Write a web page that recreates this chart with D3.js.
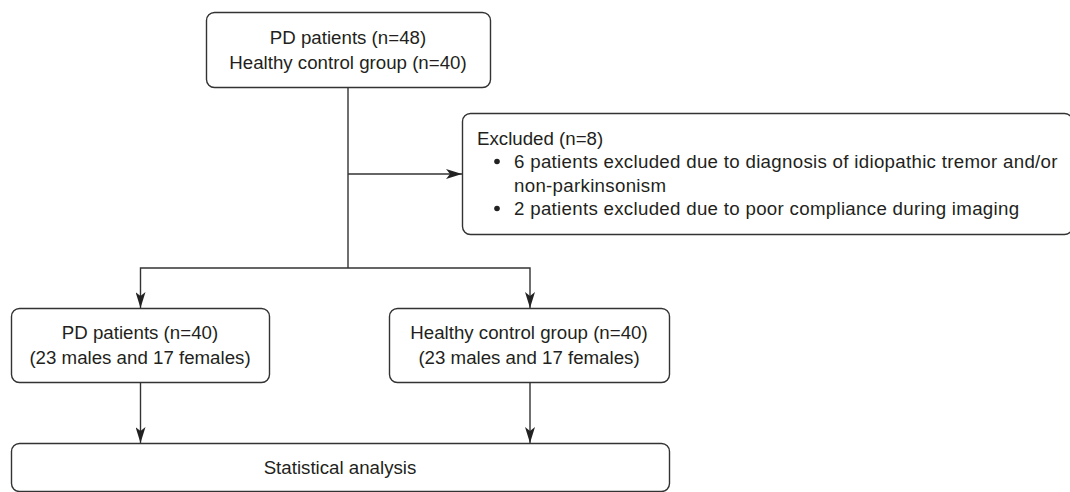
<!DOCTYPE html>
<html>
<head>
<meta charset="utf-8">
<script src="https://cdn.jsdelivr.net/npm/d3@7"></script>
<style>
  body { margin: 0; background: #fff; }
  text { font-family: 'Liberation Sans', Arial, sans-serif; font-size: 18.7px; fill: #231f20; }
</style>
</head>
<body>
<div class="chart"></div>
<script>
  const width = 1070;
  const height = 492;

  // box texts
  const topLines = ['PD patients (n=48)', 'Healthy control group (n=40)'];
  const excludedTitle = 'Excluded (n=8)';
  const excludedItems = [
    ['6 patients excluded due to diagnosis of idiopathic tremor and/or', 'non-parkinsonism'],
    ['2 patients excluded due to poor compliance during imaging'],
  ];
  const groupLines = [
    ['PD patients (n=40)', '(23 males and 17 females)'],
    ['Healthy control group (n=40)', '(23 males and 17 females)'],
  ];
  const finalLines = ['Statistical analysis'];

  // layout
  const boxes = {
    top: { x: 206, y: 12, w: 284, h: 75 },
    excl: { x: 462, y: 113, w: 610, h: 121 },
    left: { x: 11, y: 308, w: 258, h: 74 },
    right: { x: 389, y: 308, w: 280, h: 74 },
    final: { x: 11, y: 443, w: 658, h: 48 },
  };
  const lineH = 25;
  const stroke = '#333';

  const svg = d3.select('.chart').append('svg')
    .attr('width', width)
    .attr('height', height);

  svg.append('defs').append('marker')
    .attr('id', 'arrow')
    .attr('viewBox', '0 0 16 10')
    .attr('refX', 16)
    .attr('refY', 5)
    .attr('markerWidth', 16)
    .attr('markerHeight', 10)
    .attr('markerUnits', 'userSpaceOnUse')
    .attr('orient', 'auto')
    .append('path')
    .attr('d', 'M0,0 L16,5 L0,10 L4,5 Z')
    .attr('fill', '#222');

  // boxes
  svg.append('g').selectAll('rect')
    .data(Object.values(boxes))
    .join('rect')
    .attr('x', d => d.x + 0.5)
    .attr('y', d => d.y + 0.5)
    .attr('width', d => d.w)
    .attr('height', d => d.h)
    .attr('rx', 8)
    .attr('fill', 'none')
    .attr('stroke', stroke)
    .attr('stroke-width', 1.4);

  const cx = b => b.x + b.w / 2;
  const midX = cx(boxes.top);
  const branchY = 268;
  const leftX = cx(boxes.left) + 0.5;
  const rightX = 530;

  const line = d3.line();
  const paths = [
    { pts: [[midX, boxes.top.y + boxes.top.h], [midX, branchY]], arrow: false },
    { pts: [[midX, 174], [boxes.excl.x, 174]], arrow: true },
    { pts: [[midX, branchY], [leftX, branchY], [leftX, boxes.left.y]], arrow: true },
    { pts: [[midX, branchY], [rightX, branchY], [rightX, boxes.right.y]], arrow: true },
    { pts: [[leftX, boxes.left.y + boxes.left.h], [leftX, boxes.final.y]], arrow: true },
    { pts: [[rightX, boxes.right.y + boxes.right.h], [rightX, boxes.final.y]], arrow: true },
  ];
  svg.append('g').selectAll('path')
    .data(paths)
    .join('path')
    .attr('d', d => line(d.pts))
    .attr('fill', 'none')
    .attr('stroke', stroke)
    .attr('stroke-width', 1.4)
    .attr('marker-end', d => d.arrow ? 'url(#arrow)' : null);

  // centered multi-line labels
  function centered(lines, b) {
    const y0 = b.y + b.h / 2 - (lines.length - 1) * lineH / 2;
    svg.append('g').selectAll('text')
      .data(lines)
      .join('text')
      .attr('x', cx(b))
      .attr('y', (d, i) => y0 + i * lineH)
      .attr('text-anchor', 'middle')
      .attr('dominant-baseline', 'central')
      .text(d => d);
  }
  centered(topLines, boxes.top);
  centered(groupLines[0], boxes.left);
  centered(groupLines[1], boxes.right);
  centered(finalLines, boxes.final);

  // excluded box content
  const exG = svg.append('g');
  const exStep = 23.5;
  exG.append('text')
    .attr('x', 477)
    .attr('y', 138)
    .attr('dominant-baseline', 'central')
    .text(excludedTitle);
  let row = 1;
  excludedItems.forEach(item => {
    exG.append('circle')
      .attr('cx', 497)
      .attr('cy', 138 + row * exStep)
      .attr('r', 2.8)
      .attr('fill', '#222');
    item.forEach(t => {
      exG.append('text')
        .attr('x', 514)
        .attr('y', 138 + row * exStep)
        .attr('dominant-baseline', 'central')
        .style('letter-spacing', '0.3px')
        .text(t);
      row++;
    });
  });
</script>
</body>
</html>
